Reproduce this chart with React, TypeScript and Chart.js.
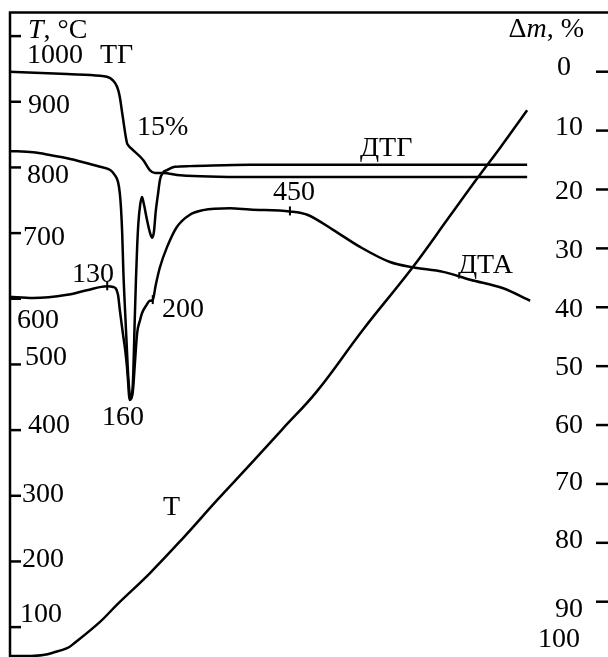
import React, { useEffect, useRef } from "react";
import { Chart, registerables } from "chart.js";

Chart.register(...registerables);

// ---- data (time in arbitrary units across the record) ----
const timeT = [0, 3.5, 5.7, 7.7, 9.7, 10.5, 15.2, 18.0, 23.5, 29.1, 34.7, 40.2, 45.7, 51.4, 59.1, 67.4, 73.6, 78.3, 82.0, 86.5];
const tempT = [56, 56, 57.5, 62, 68, 72.6, 108, 134, 182, 236, 293, 347, 402, 459, 553, 648, 726, 785, 830, 887];

const timeTG = [0, 9.7, 15.2, 16.9, 17.7, 18.2, 18.5, 19.0, 19.7, 20.0, 20.7, 22.4, 23.5, 24.4, 25.7, 28.6, 40.2, 86.5];
const massTG = [0, 0.4, 0.7, 1.1, 1.9, 3.0, 4.3, 7.7, 12.1, 12.6, 13.3, 15.0, 16.7, 17.2, 17.2, 17.6, 17.9, 17.9];

const timeDTG = [0, 4.0, 6.8, 9.7, 12.4, 15.2, 16.9, 17.7, 18.2, 18.5, 18.7, 18.9, 19.1, 19.4, 19.7, 19.9, 20.2, 20.4, 20.7, 21.0, 21.2, 21.4, 21.6, 21.9, 22.2, 22.5, 23.0, 23.5, 23.9, 24.2, 24.5, 24.9, 25.2, 25.7, 26.4, 27.7, 30.2, 40.2, 86.5];
const valDTG = [825, 823, 819, 814, 808, 801, 796, 788, 778, 761, 738, 700, 640, 578, 520, 483, 452, 449, 475, 570, 630, 680, 715, 743, 755, 745, 722, 702, 693, 702, 733, 761, 781, 792, 796, 801, 802, 804, 804];

const timeDTA = [0, 4.0, 9.7, 13.0, 16.4, 17.4, 18.2, 18.5, 19.0, 19.4, 19.7, 19.9, 20.1, 20.7, 21.0, 21.4, 21.9, 22.2, 23.0, 23.5, 24.0, 24.5, 25.2, 26.4, 28.0, 30.2, 32.4, 36.9, 40.2, 46.9, 49.8, 54.1, 58.6, 63.6, 67.4, 72.5, 77.0, 82.5, 87.0];
const valDTA = [603, 601, 606, 613, 619, 618, 606, 583, 548, 522, 496, 472, 446, 461, 499, 548, 568, 578, 591, 597, 598, 621, 648, 679, 709, 728, 735, 738, 736, 733, 728, 705, 679, 656, 648, 641, 629, 616, 597];
const dtaMarkedTimes = [16.4, 24.0, 46.9];

const tempTicks = [100, 200, 300, 400, 500, 600, 700, 800, 900, 1000];
const tempTickLabels = ["100", "200", "300", "400", "500", "600", "700", "800", "900", "1000"];
const massTicks = [0, 10, 20, 30, 40, 50, 60, 70, 80, 90];
const massTickLabels = ["0", "10", "20", "30", "40", "50", "60", "70", "80", "90"];
const massEndValue = 100;
const massEndLabel = "100";

// ---- layout / styling (pixels) ----
const INK = "#000";
const FONT = "28px 'Liberation Serif', 'Times New Roman', serif";
const FONT_I = "italic 28px 'Liberation Serif', 'Times New Roman', serif";
// left label: [left x, baseline offset from tick]
const leftLabelPos = [[20, -5], [22, 6], [22, 6], [28, 3], [25, 1], [17, 29], [23, 12], [27, 16], [28, 11], [27, 27]];
// right label: [right x, baseline offset from tick]
const rightLabelPos = [[571, 3], [583, 4], [583, 10], [583, 10], [583, 10], [583, 9], [583, 8], [583, 6], [583, 5], [583, 15]];
const rightEndPos = [580, -14];
const textLabels = [
  { text: "ТГ", x: 100, y: 63 },
  { text: "15%", x: 137, y: 135 },
  { text: "ДТГ", x: 360, y: 156 },
  { text: "450", x: 273, y: 200 },
  { text: "130", x: 72, y: 282 },
  { text: "ДТА", x: 458, y: 273 },
  { text: "200", x: 162, y: 317 },
  { text: "160", x: 102, y: 425 },
  { text: "T", x: 163, y: 515 },
];

const pts = (xs: number[], ys: number[]) => xs.map((x, i) => ({ x, y: ys[i] }));

const thermoPlugin = {
  id: "thermoAxes",
  afterDatasetsDraw(chart: any) {
    const { ctx, chartArea: a, scales } = chart;
    const yT = scales.yT;
    const yM = scales.yM;
    ctx.save();
    ctx.strokeStyle = INK;
    ctx.fillStyle = INK;
    ctx.lineCap = "butt";
    ctx.lineWidth = 2.5;
    // frame: left axis and top border
    ctx.beginPath();
    ctx.moveTo(a.left, a.bottom + 2);
    ctx.lineTo(a.left, a.top + 0.5);
    ctx.lineTo(a.right + 2, a.top + 0.5);
    ctx.stroke();

    ctx.font = FONT;
    ctx.textBaseline = "alphabetic";
    // left ticks + labels
    tempTicks.forEach((v, i) => {
      const y = yT.getPixelForValue(v);
      ctx.beginPath();
      ctx.moveTo(a.left, y);
      ctx.lineTo(a.left + 11, y);
      ctx.stroke();
      ctx.textAlign = "left";
      ctx.fillText(tempTickLabels[i], leftLabelPos[i][0], y + leftLabelPos[i][1]);
    });
    // right ticks + labels
    massTicks.forEach((v, i) => {
      const y = yM.getPixelForValue(v);
      ctx.beginPath();
      ctx.moveTo(a.right - 12, y);
      ctx.lineTo(a.right, y);
      ctx.stroke();
      ctx.textAlign = "right";
      ctx.fillText(massTickLabels[i], rightLabelPos[i][0], y + rightLabelPos[i][1]);
    });
    ctx.textAlign = "right";
    ctx.fillText(massEndLabel, rightEndPos[0], yM.getPixelForValue(massEndValue) + rightEndPos[1]);

    // axis titles
    ctx.textAlign = "left";
    let x = 28;
    ctx.font = FONT_I;
    ctx.fillText("T", x, 38);
    x += ctx.measureText("T").width;
    ctx.font = FONT;
    ctx.fillText(", °C", x, 38);

    const parts: [string, string][] = [["Δ", FONT], ["m", FONT_I], [", %", FONT]];
    let total = 0;
    parts.forEach(([t, f]) => { ctx.font = f; total += ctx.measureText(t).width; });
    x = 584 - total;
    parts.forEach(([t, f]) => { ctx.font = f; ctx.fillText(t, x, 37); x += ctx.measureText(t).width; });

    // curve labels
    ctx.font = FONT;
    ctx.textAlign = "left";
    textLabels.forEach((l) => ctx.fillText(l.text, l.x, l.y));

    // small marks on the DTA curve
    const meta = chart.getDatasetMeta(3);
    ctx.lineWidth = 2;
    dtaMarkedTimes.forEach((t) => {
      const idx = timeDTA.indexOf(t);
      const p = meta.data[idx];
      if (!p) return;
      ctx.beginPath();
      ctx.moveTo(p.x, p.y - 5);
      ctx.lineTo(p.x, p.y + 4);
      ctx.stroke();
    });
    ctx.restore();
  },
};

export default function App() {
  const ref = useRef<HTMLCanvasElement | null>(null);
  useEffect(() => {
    if (!ref.current) return;
    const line = {
      borderColor: INK,
      borderWidth: 2.5,
      pointRadius: 0,
      fill: false,
      cubicInterpolationMode: "monotone" as const,
      clip: false as any,
    };
    const chart = new Chart(ref.current, {
      type: "line",
      data: {
        datasets: [
          { ...line, cubicInterpolationMode: "default" as const, tension: 0.4, label: "T", data: pts(timeT, tempT), yAxisID: "yT" },
          { ...line, label: "ТГ", data: pts(timeTG, massTG), yAxisID: "yM" },
          { ...line, label: "ДТГ", data: pts(timeDTG, valDTG), yAxisID: "yT" },
          { ...line, label: "ДТА", data: pts(timeDTA, valDTA), yAxisID: "yT" },
        ],
      },
      options: {
        responsive: false,
        animation: false,
        devicePixelRatio: 1,
        events: [],
        layout: { padding: { left: 10, top: 12, right: 0, bottom: 0 } },
        plugins: { legend: { display: false }, tooltip: { enabled: false } },
        scales: {
          x: { type: "linear", min: 0.17, max: 100, display: false },
          yT: { type: "linear", position: "left", min: 54.5, max: 1036.7, display: false },
          yM: { type: "linear", position: "right", reverse: true, min: -10.14, max: 99.39, display: false },
        },
      },
      plugins: [thermoPlugin],
    });
    return () => chart.destroy();
  }, []);
  return (
    <div style={{ position: "absolute", left: 0, top: 0, width: 608, height: 657, background: "#fff" }}>
      <canvas ref={ref} width={608} height={657} style={{ display: "block" }} />
    </div>
  );
}
